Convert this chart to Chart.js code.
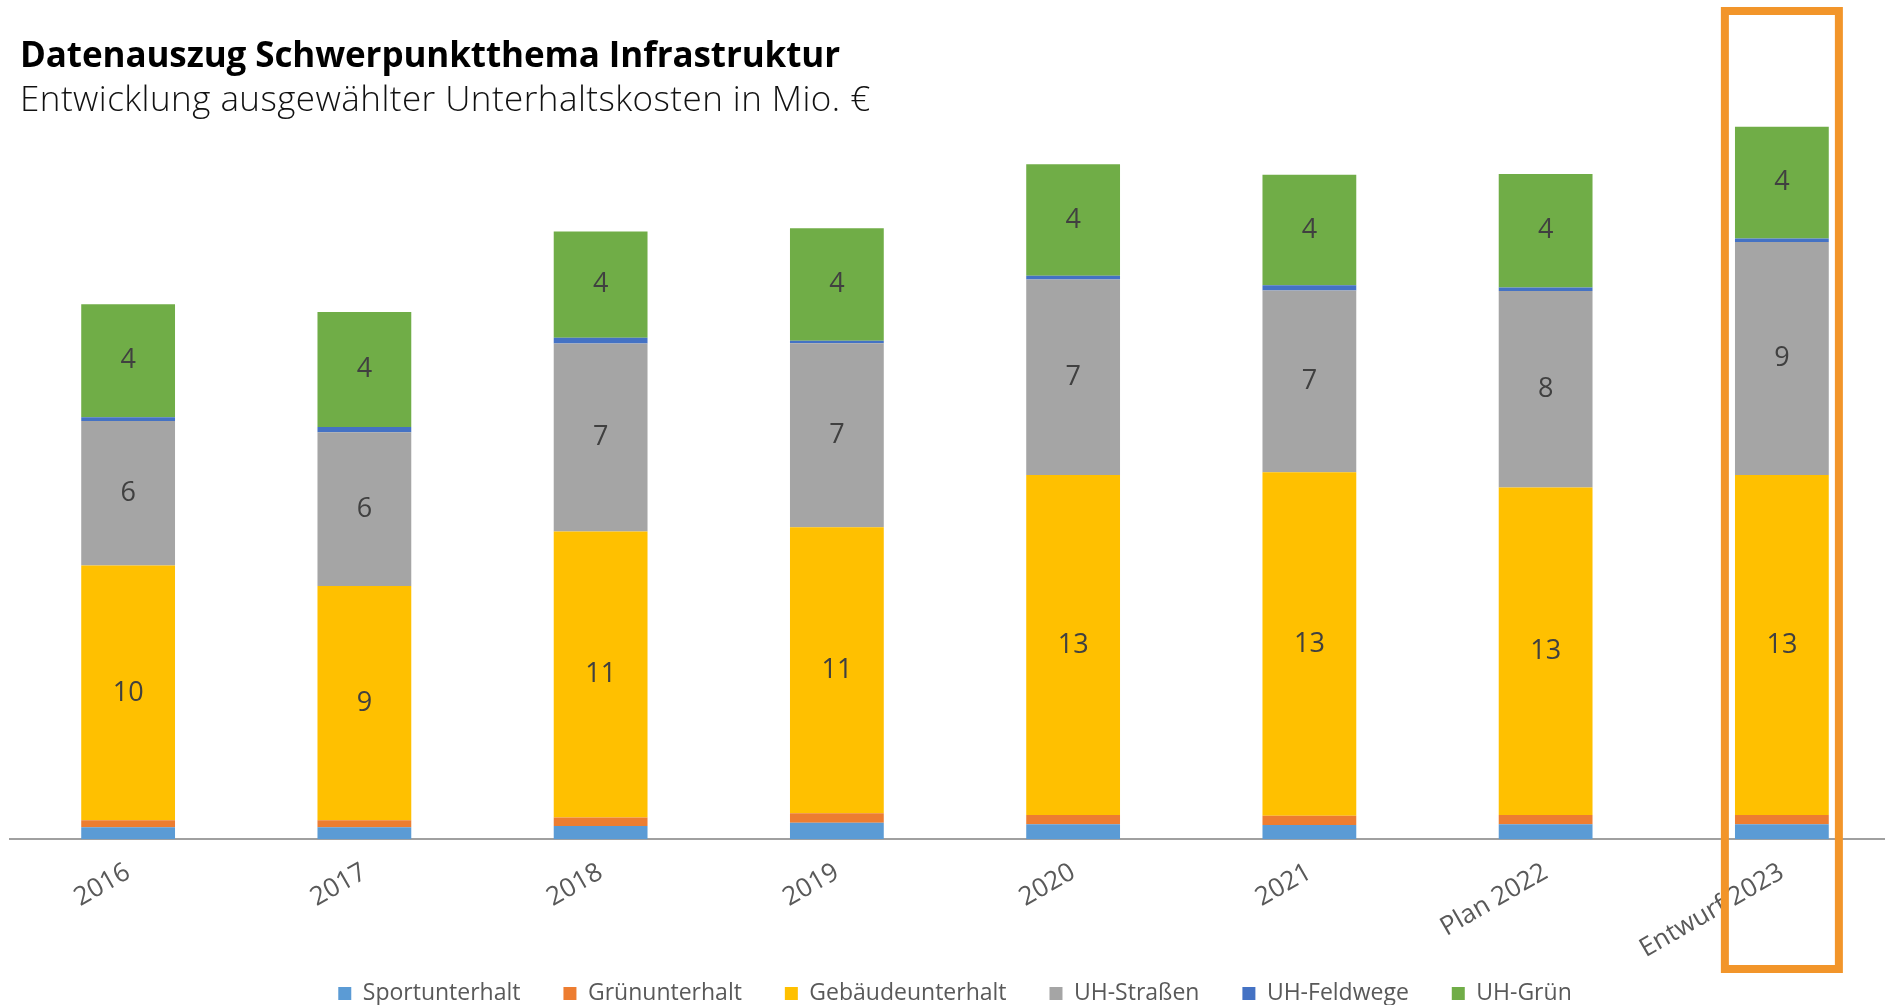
<!DOCTYPE html>
<html>
<head>
<meta charset="utf-8">
<script src="https://cdn.jsdelivr.net/npm/chart.js@4.4.1/dist/chart.umd.min.js"></script>
<style>
html, body { margin:0; padding:0; background:#fff; width:1885px; height:1005px; overflow:hidden; }
#wrap { position:absolute; left:0; top:0; width:1910px; height:1005px; }
.head { position:absolute; left:20px; white-space:nowrap; font-family:"Open Sans", sans-serif; line-height:1; color:#000; }
#title { top:36px; font-size:35px; font-weight:700; letter-spacing:-0.1px; }
#sub { top:80px; font-size:35px; font-weight:300; letter-spacing:0.45px; color:#111; }
</style>
</head>
<body>
<div id="wrap"><canvas id="chart1" width="1910" height="1005"></canvas></div>
<div class="head" id="title">Datenauszug Schwerpunktthema Infrastruktur</div>
<div class="head" id="sub">Entwicklung ausgewählter Unterhaltskosten in Mio. €</div>
<script>
// Jahre / Kategorien
var years = ["2016","2017","2018","2019","2020","2021","Plan 2022","Entwurf 2023"];

// Werte in Mio. €
var sportunterhalt   = [0.46, 0.46, 0.51, 0.63, 0.58, 0.55, 0.58, 0.58];
var gruenunterhalt   = [0.27, 0.27, 0.32, 0.37, 0.35, 0.35, 0.35, 0.35];
var gebaeudeunterhalt= [9.74, 8.96, 10.94, 10.93, 13.0, 13.14, 12.52, 13.0];
var uhStrassen       = [5.53, 5.88, 7.19, 7.04, 7.48, 6.95, 7.52, 8.91];
var uhFeldwege       = [0.14, 0.20, 0.22, 0.09, 0.14, 0.20, 0.13, 0.13];
var uhGruen          = [4.32, 4.39, 4.06, 4.31, 4.26, 4.22, 4.34, 4.28];

// nur diese Reihen bekommen Zahlen in den Balken
var labelledSeries = [2, 3, 5];
var highlightIndex = 7;

var segmentLabels = {
  id: 'segmentLabels',
  afterDatasetsDraw: function(chart){
    var ctx = chart.ctx;
    ctx.save();
    ctx.font = '27px "Open Sans"';
    ctx.fillStyle = '#404040';
    ctx.textAlign = 'center';
    ctx.textBaseline = 'middle';
    labelledSeries.forEach(function(i){
      var meta = chart.getDatasetMeta(i);
      meta.data.forEach(function(bar, j){
        var v = chart.data.datasets[i].data[j];
        ctx.fillText(Math.round(v), bar.x, (bar.y + bar.base) / 2);
      });
    });
    ctx.restore();
  }
};

// orangener Rahmen um den Entwurf
var highlightBox = {
  id: 'highlightBox',
  afterDraw: function(chart){
    var ctx = chart.ctx;
    var x = chart.scales.x.getPixelForValue(highlightIndex);
    ctx.save();
    ctx.strokeStyle = '#F2952A';
    ctx.lineWidth = 8;
    ctx.strokeRect(x - 57, 11, 114, 958);
    ctx.restore();
  }
};

function ds(label, data, color){
  return { label: label, data: data, backgroundColor: color, borderWidth: 0,
           categoryPercentage: 1, barPercentage: 0.397 };
}

var ctx = document.getElementById("chart1").getContext("2d");
var myChart = new Chart(ctx, {
  type: 'bar',
  data: {
    labels: years,
    datasets: [
      ds('Sportunterhalt', sportunterhalt, '#5B9BD5'),
      ds('Grünunterhalt', gruenunterhalt, '#ED7D31'),
      ds('Gebäudeunterhalt', gebaeudeunterhalt, '#FFC000'),
      ds('UH-Straßen', uhStrassen, '#A5A5A5'),
      ds('UH-Feldwege', uhFeldwege, '#4472C4'),
      ds('UH-Grün', uhGruen, '#70AD47')
    ]
  },
  options: {
    responsive: false,
    animation: false,
    layout: { padding: { left: 10, right: 10, top: 60, bottom: 0 } },
    plugins: {
      tooltip: { enabled: false },
      title: { display: false },
      legend: {
        position: 'bottom',
        maxHeight: 31,
        labels: {
          boxWidth: 13, boxHeight: 13, padding: 8,
          color: '#595959',
          font: { family: 'Open Sans', size: 23 },
          // etwas mehr Abstand zwischen den Einträgen
          generateLabels: function(chart){
            var items = Chart.defaults.plugins.legend.labels.generateLabels(chart);
            items.forEach(function(it, i){
              if (i < items.length - 1) it.text = it.text + '\u2003  ';
            });
            return items;
          }
        }
      }
    },
    scales: {
      x: {
        stacked: true,
        grid: { display: false },
        border: { display: true, color: '#A0A0A0', width: 2 },
        ticks: {
          color: '#595959', font: { family: 'Open Sans', size: 26 },
          minRotation: 30, maxRotation: 30, autoSkip: false, padding: 9.5
        }
      },
      y: {
        stacked: true, display: false, min: 0, max: 29.8
      }
    }
  },
  plugins: [segmentLabels, highlightBox]
});
</script>
</body>
</html>
